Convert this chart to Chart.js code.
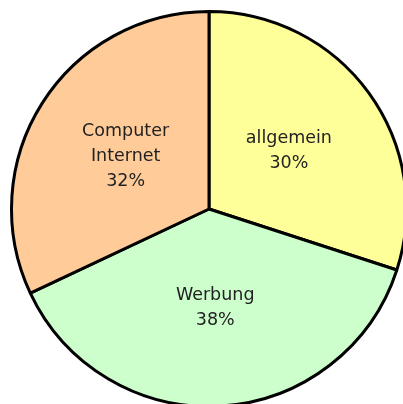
<!DOCTYPE html>
<html>
<head>
<meta charset="utf-8">
<script src="https://cdn.jsdelivr.net/npm/chart.js@4"></script>
<style>
  html, body { margin: 0; padding: 0; background: #fff; overflow: hidden; }
  #wrap { position: absolute; left: 0; top: 0; width: 418px; height: 418px; }
</style>
</head>
<body>
<div id="wrap"><canvas id="pie" width="418" height="418"></canvas></div>
<script>
  // Anteile, im Uhrzeigersinn ab 12 Uhr
  var categories = [["allgemein"], ["Werbung"], ["Computer", "Internet"]];
  var shares = [30, 38, 32];
  var sliceColors = ["#ffff99", "#ccffcc", "#ffcc99"];

  // schreibt Name + Prozent in die Mitte jedes Stücks
  var sliceLabels = {
    id: "sliceLabels",
    afterDatasetsDraw: function (chart) {
      var ctx = chart.ctx;
      var meta = chart.getDatasetMeta(0);
      var total = shares.reduce(function (a, b) { return a + b; }, 0);
      ctx.save();
      ctx.font = "17.5px 'DejaVu Sans'";
      ctx.fillStyle = "#222";
      ctx.textAlign = "center";
      ctx.textBaseline = "middle";
      meta.data.forEach(function (arc, i) {
        var p = arc.getCenterPoint();
        var lines = categories[i].concat([Math.round(shares[i] / total * 100) + "%"]);
        var lh = 25;
        var y0 = p.y - (lines.length - 1) * lh / 2;
        lines.forEach(function (t, j) {
          ctx.fillText(t, p.x, y0 + j * lh);
        });
      });
      ctx.restore();
    }
  };

  new Chart(document.getElementById("pie").getContext("2d"), {
    type: "pie",
    data: {
      labels: categories.map(function (c) { return c.join(" "); }),
      datasets: [{
        data: shares,
        backgroundColor: sliceColors,
        borderColor: "#000",
        borderWidth: 3,
        borderAlign: "center"
      }]
    },
    options: {
      responsive: false,
      animation: false,
      layout: { padding: 10 },
      plugins: {
        legend: { display: false },
        tooltip: { enabled: false }
      }
    },
    plugins: [sliceLabels]
  });
</script>
</body>
</html>
